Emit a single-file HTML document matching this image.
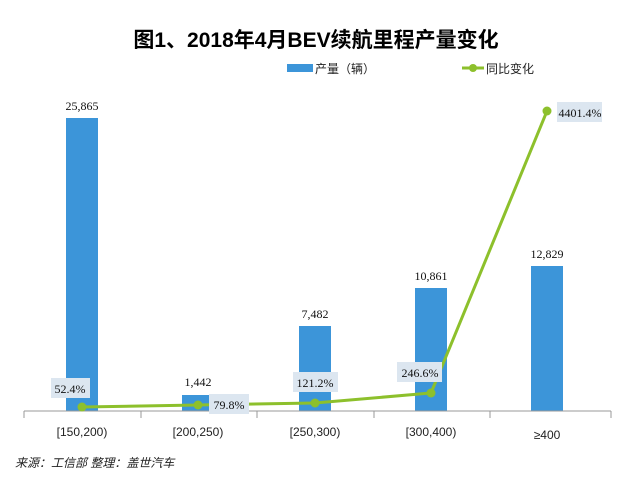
<!DOCTYPE html><html><head><meta charset="utf-8"><style>body{margin:0;background:#fff}svg text{font-family:"Liberation Sans","Noto Sans CJK SC",sans-serif}</style></head><body>
<svg width="637" height="473" xmlns="http://www.w3.org/2000/svg">
<text x="316" y="47" text-anchor="middle" font-size="21" font-weight="bold" fill="#000">图1、2018年4月BEV续航里程产量变化</text>
<rect x="287" y="64" width="26" height="8" fill="#3c95d9"/>
<text x="315" y="73" font-size="12" fill="#222">产量（辆）</text>
<line x1="462" y1="68" x2="484" y2="68" stroke="#8dc02c" stroke-width="3"/><circle cx="473" cy="68" r="4" fill="#8dc02c"/>
<text x="486" y="73" font-size="12" fill="#222">同比变化</text>
<g fill="#3c95d9">
<rect x="66" y="118" width="32" height="293"/>
<rect x="182" y="395" width="32" height="16"/>
<rect x="299" y="326" width="32" height="85"/>
<rect x="415" y="288" width="32" height="123"/>
<rect x="531" y="266" width="32" height="145"/>
</g>
<g font-size="12" text-anchor="middle" fill="#111">
<text x="82" y="110" style="font-family:'Liberation Serif',serif">25,865</text>
<text x="198" y="386" style="font-family:'Liberation Serif',serif">1,442</text>
<text x="315" y="318" style="font-family:'Liberation Serif',serif">7,482</text>
<text x="431" y="280" style="font-family:'Liberation Serif',serif">10,861</text>
<text x="547" y="258" style="font-family:'Liberation Serif',serif">12,829</text>
</g>
<line x1="24" y1="411" x2="611" y2="411" stroke="#999"/>
<g stroke="#999"><line x1="24" y1="411" x2="24" y2="418"/><line x1="141" y1="411" x2="141" y2="418"/><line x1="257" y1="411" x2="257" y2="418"/><line x1="374" y1="411" x2="374" y2="418"/><line x1="490" y1="411" x2="490" y2="418"/><line x1="611" y1="411" x2="611" y2="418"/></g>
<g font-size="12" text-anchor="middle" fill="#222">
<text x="82" y="436">[150,200)</text><text x="198" y="436">[200,250)</text><text x="315" y="436">[250,300)</text><text x="431" y="436">[300,400)</text><text x="547" y="439">≥400</text>
</g>
<polyline points="82,407 198,405 315,403 431,393 547,111" fill="none" stroke="#8dc02c" stroke-width="3"/>
<g fill="#8dc02c"><circle cx="82" cy="407" r="4.5"/><circle cx="198" cy="405" r="4.5"/><circle cx="315" cy="403" r="4.5"/><circle cx="431" cy="393" r="4.5"/><circle cx="547" cy="111" r="4.5"/></g>
<g fill="#dce6f0"><rect x="51" y="378" width="39" height="20"/><rect x="209" y="394" width="40" height="20"/><rect x="293" y="372" width="45" height="20"/><rect x="397" y="362" width="45" height="20"/><rect x="557" y="102" width="45" height="20"/></g>
<g font-size="12" text-anchor="middle" fill="#111">
<text x="70" y="393" style="font-family:'Liberation Serif',serif">52.4%</text>
<text x="229" y="409" style="font-family:'Liberation Serif',serif">79.8%</text>
<text x="315" y="387" style="font-family:'Liberation Serif',serif">121.2%</text>
<text x="420" y="377" style="font-family:'Liberation Serif',serif">246.6%</text>
<text x="580" y="117" style="font-family:'Liberation Serif',serif">4401.4%</text>
</g>
<text x="15" y="467" font-size="12" font-style="italic" fill="#222">来源：工信部 整理：盖世汽车</text>
</svg></body></html>
